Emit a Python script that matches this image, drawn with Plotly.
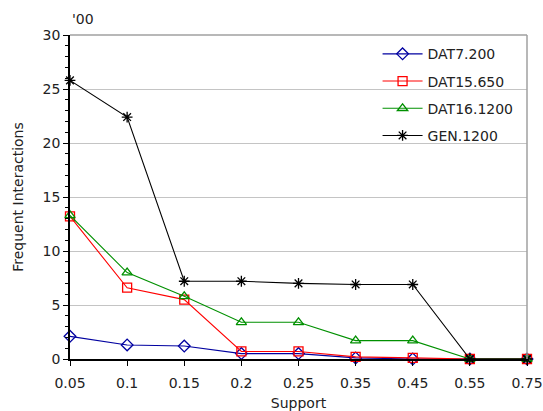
import plotly.graph_objects as go

support = ["0.05", "0.1", "0.15", "0.2", "0.25", "0.35", "0.45", "0.55", "0.75"]
dat7_200 = [2.1, 1.3, 1.2, 0.5, 0.5, 0.1, 0.0, 0.0, 0.0]
dat15_650 = [13.2, 6.6, 5.5, 0.7, 0.7, 0.2, 0.1, 0.0, 0.0]
dat16_1200 = [13.3, 8.0, 5.8, 3.4, 3.4, 1.7, 1.7, 0.0, 0.0]
gen_1200 = [25.8, 22.4, 7.2, 7.2, 7.0, 6.9, 6.9, 0.0, 0.0]

series = [
    ("DAT7.200", dat7_200, "#0000A0", "diamond-open"),
    ("DAT15.650", dat15_650, "#FF0000", "square-open"),
    ("DAT16.1200", dat16_1200, "#009000", "triangle-up-open"),
    ("GEN.1200", gen_1200, "#000000", "asterisk-open"),
]

fig = go.Figure()
for name, vals, col, sym in series:
    fig.add_trace(go.Scatter(
        x=support, y=vals, name=name, mode="lines+markers",
        line=dict(color=col, width=1.1),
        marker=dict(symbol=sym, size=9, color=col, line=dict(color=col, width=1.3)),
        cliponaxis=False, legendgroup=name,
    ))

FONT = "DejaVu Sans, Verdana, sans-serif"

fig.update_layout(
    width=543, height=411,
    margin=dict(l=70, r=16, t=35, b=52, autoexpand=False),
    paper_bgcolor="white", plot_bgcolor="white",
    font=dict(family=FONT, size=14, color="#222"),
    showlegend=True,
    legend=dict(x=0.673, y=0.99, xanchor="left", yanchor="top",
                bgcolor="rgba(0,0,0,0)", borderwidth=0, tracegroupgap=6,
                traceorder="grouped", font=dict(family=FONT, size=14, color="#222"),
                itemwidth=40),
    xaxis=dict(type="category", range=[0, 8], showgrid=False,
               showline=True, linecolor="black", linewidth=1.5,
               ticks="outside", ticklen=5, tickcolor="black",
               ticklabelstandoff=5, automargin=False,
               title=dict(text="Support", standoff=10, font=dict(size=14)),
               mirror=False, zeroline=False),
    yaxis=dict(range=[0, 30], dtick=5, showgrid=True, gridcolor="#C4C4C4",
               gridwidth=1.2, showline=True, linecolor="black", linewidth=1.5,
               ticks="outside", ticklen=5, tickcolor="black", automargin=False,
               minor=dict(dtick=1, ticks="outside", ticklen=3, tickcolor="black", showgrid=False),
               title=dict(text="Frequent Interactions", standoff=16, font=dict(size=14)),
               zeroline=False),
    shapes=[
        dict(type="rect", xref="paper", yref="paper", x0=0.667, x1=0.993, y0=0.62, y1=1,
             fillcolor="white", line=dict(width=0), layer="between"),
        dict(type="line", xref="paper", yref="paper", x0=0, x1=1, y0=1, y1=1,
             line=dict(color="#A0A0A0", width=1.5)),
        dict(type="line", xref="paper", yref="paper", x0=1, x1=1, y0=0, y1=1,
             line=dict(color="#A0A0A0", width=1.5)),
    ],
    annotations=[dict(text="'00", xref="paper", yref="paper", x=0.0, y=1.02,
                      xanchor="left", yanchor="bottom", showarrow=False,
                      font=dict(family=FONT, size=14, color="#222"))],
)

fig.write_html("out.html", config={"displayModeBar": False},
               post_script="document.body.style.margin='0';document.body.style.overflow='hidden';")
